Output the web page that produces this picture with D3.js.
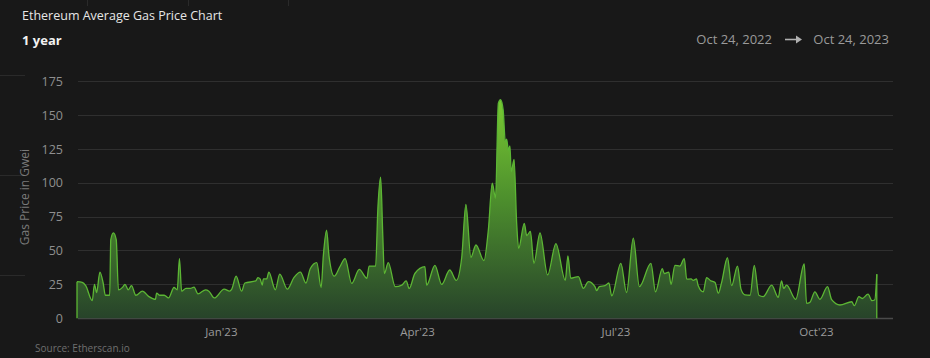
<!DOCTYPE html>
<html><head><meta charset="utf-8">
<script src="https://cdn.jsdelivr.net/npm/d3@7"></script>
<style>
html,body{margin:0;padding:0;background:#181818;}
svg{display:block;font-family:"Open Sans",sans-serif;}
</style></head>
<body>
<svg id="c" width="930" height="358"></svg>
<script>
// ---- data ----
const startDate = "2022-10-27";
const dayOffset = [0,2.4,4,7,8,9,10.5,12,13,15,15.5,16.7,18,19,21,22,23.5,25,27,30,33,36,36.5,38,40,42,44.5,46,47,48,50,52,53.7,55.5,59,60.5,63,67.5,70,71,73,75.5,77,82,83,84,85,85.5,87,88,91,93,96.5,99.5,102.5,105,107,110,112,113,114.5,115.6,118,120.6,
123,126,129.5,133,134,137,138,139.3,140.3,141,142.8,146,149,151,152.4,155,159.6,160.4,164.2,167.3,171,174,176.5,178.4,180.7,183,186.7,188.7,190.5,192,193.3,194.3,195.5,196.5,197.1,197.9,198.6,199.2,200.5,201.7,202.6,205.2,206.3,208,209.6,212.4,215.9,219.7,224,225.2,226.5,230,232.3,234.6,237.6,238.4,239.6,242.2,
244,245.3,249.5,252.1,255.2,258,263.3,265.4,268.5,269.4,271.5,272.5,274.3,276.6,278.6,279.7,281.7,282.7,284.2,284.9,287.3,288.8,290.8,292.7,294.2,295.7,298.4,300.3,303,304.6,306.4,308.8,310.7,312.8,314.8,318.7,321.7,323.2,324.2,325.5,329.7,333.6,334.7,336.2,338.5,340.8,344.3,346.2,350,355.4,356.6,358.7,360.2,362.9,364.7,366,366.9];
const gwei = [27,26.5,24,13,25,19,34,26,17,17,58,63,58,21,23,25,21,24,17,20,16,14,18.5,17,17,15,22.7,21,44,20,22,22,23,18,21,20,15,21.5,20,21.5,31,20,26,27.5,30,29,24.5,29,29,34,21,32.5,21.5,30,34,26,36.5,41,22.7,46,65,46,31,38,
44,25.7,36,29.5,38.5,38.5,80,104,60,33,41,23.3,24.5,27.5,22,33,38,24.5,39,25,35.6,28,45,84,45,54,42.5,65,99.5,88.5,158.5,161,153.5,130,132,124,127,108,117,70,51.5,70,61,64,40.5,63,32,55,28,46,29.5,30.7,22,27,23.3,20.4,23.3,24,
26,16.6,40.5,19,59,23.4,40.5,19.5,36.6,33,34,25,39,38.5,44,28.8,29,28,29,24.4,19.5,30,27.6,26.3,18.5,26.3,44.6,24,38.5,21.5,17.3,17,39,17,16,24.4,15.4,27.6,22,24.4,14,40,11,11.7,19.5,14,23.4,13.7,9.8,12.2,9.3,16,14.6,17.8,13,13.7,32.4];
const yTicks = [0,25,50,75,100,125,150,175];
const xTickDates = ["2023-01-01","2023-04-01","2023-07-01","2023-10-01"];
const titleText = "Ethereum Average Gas Price Chart";
const periodText = "1 year";
const rangeFrom = "Oct 24, 2022";
const rangeTo = "Oct 24, 2023";

// ---- chart ----
const svg = d3.select("#c");
const DAY = 86400000;
const t0 = new Date(startDate + "T00:00:00Z");
const data = dayOffset.map((d,i)=>({date:new Date(t0.getTime()+d*DAY), v:gwei[i]}));

const x = d3.scaleUtc().domain([t0, new Date(t0.getTime()+367*DAY)]).range([77, 877]);
const y = d3.scaleLinear().domain([0,150]).range([318.3,114.7]);
const plotL = 78, plotR = 893;

// background decorations
const deco = svg.append("g").attr("stroke","#2a2a2a").attr("stroke-width",1);
[87.5,188.5,288.5].forEach(xx=>deco.append("line").attr("x1",xx).attr("x2",xx).attr("y1",0).attr("y2",6));
[75.5,175.5,275.5].forEach(yy=>deco.append("line").attr("x1",0).attr("x2",25).attr("y1",yy).attr("y2",yy));

// titles
svg.append("text").attr("x",22).attr("y",20).attr("fill","#e6e6e6").attr("font-size",12.5).attr("font-weight",500).text(titleText);
svg.append("text").attr("x",22).attr("y",45).attr("fill","#f2f2f2").attr("font-size",13).attr("font-weight",700).text(periodText);
svg.append("text").attr("x",772).attr("y",44).attr("text-anchor","end").attr("fill","#9a9a9a").attr("font-size",13).text(rangeFrom);
svg.append("text").attr("x",889).attr("y",44).attr("text-anchor","end").attr("fill","#9a9a9a").attr("font-size",13).text(rangeTo);
const ar = svg.append("g").attr("fill","#b0b0b0").attr("stroke","#b0b0b0");
ar.append("line").attr("x1",785).attr("x2",797).attr("y1",39.5).attr("y2",39.5).attr("stroke-width",1.6);
ar.append("path").attr("d","M796,35.5 L802,39.5 L796,43.5 Z").attr("stroke","none");

// gridlines
const grid = svg.append("g");
yTicks.forEach(t=>{
  grid.append("line").attr("x1",plotL).attr("x2",plotR)
    .attr("y1",Math.round(y(t))+0.5).attr("y2",Math.round(y(t))+0.5)
    .attr("stroke", t===0 ? "#4a4a4a" : "#2f2f2f").attr("stroke-width", t===0?1.5:1);
});

// y axis labels
const yAxis = d3.axisLeft(y).tickValues(yTicks).tickSize(0).tickPadding(0);
const ya = svg.append("g").attr("transform","translate(63,0)").call(yAxis);
ya.select(".domain").remove();
ya.selectAll("text").attr("fill","#8f8f8f").attr("font-size",12.5).attr("font-family","Open Sans, sans-serif").attr("dy","0.35em");

svg.append("text").attr("transform","translate(29,197) rotate(-90)").attr("text-anchor","middle")
  .attr("fill","#7a7a7a").attr("font-size",12).text("Gas Price in Gwei");

// x axis
const xAxis = d3.axisBottom(x).tickValues(xTickDates.map(s=>new Date(s+"T00:00:00Z")))
  .tickFormat(d3.utcFormat("%b'%y")).tickSize(0).tickPadding(0);
const xa = svg.append("g").attr("transform","translate(0,328)").call(xAxis);
xa.select(".domain").remove();
xa.selectAll("text").attr("fill","#9a9a9a").attr("font-size",11.5).attr("font-family","Open Sans, sans-serif").attr("dy","0.71em");

// gradient
const defs = svg.append("defs");
const g = defs.append("linearGradient").attr("id","ag").attr("gradientUnits","userSpaceOnUse")
  .attr("x1",0).attr("x2",0).attr("y1",y(160)).attr("y2",y(0));
g.append("stop").attr("offset",0).attr("stop-color","#78c832");
g.append("stop").attr("offset",0.45).attr("stop-color","#4d8f2d");
g.append("stop").attr("offset",1).attr("stop-color","#27432a");

const area = d3.area().x(d=>x(d.date)).y0(y(0)).y1(d=>y(d.v)).curve(d3.curveMonotoneX);
const line = d3.line().x(d=>x(d.date)).y(d=>y(d.v)).curve(d3.curveMonotoneX);
svg.append("path").datum(data).attr("d",area).attr("fill","url(#ag)");
svg.append("path").datum(data).attr("d",line).attr("fill","none").attr("stroke","#5cb634").attr("stroke-width",1.3);
// edges
svg.append("line").attr("x1",x(data[0].date)).attr("x2",x(data[0].date)).attr("y1",y(0)).attr("y2",y(data[0].v)).attr("stroke","#5cb634").attr("stroke-width",1.3);
svg.append("line").attr("x1",x(data[data.length-1].date)).attr("x2",x(data[data.length-1].date)).attr("y1",y(0)).attr("y2",y(data[data.length-1].v)).attr("stroke","#5cb634").attr("stroke-width",1.3);

svg.append("text").attr("x",35).attr("y",352).attr("fill","#6f6f6f").attr("font-size",10).text("Source: Etherscan.io");
</script>
</body></html>
